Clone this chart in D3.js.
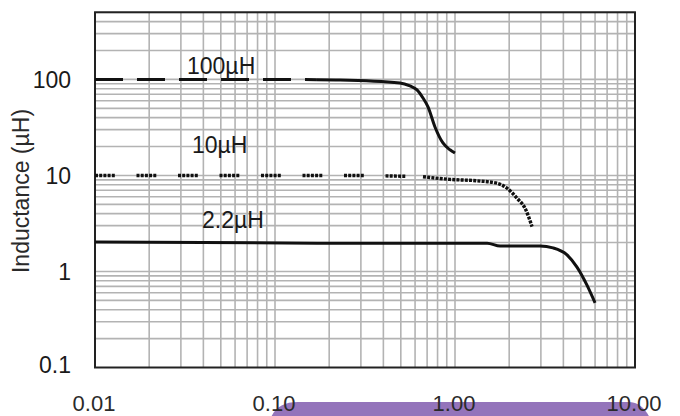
<!DOCTYPE html>
<html>
<head>
<meta charset="utf-8">
<script src="https://cdn.jsdelivr.net/npm/d3@7/dist/d3.min.js"></script>
<style>
  html, body { margin: 0; padding: 0; background: #ffffff; }
  svg { display: block; }
  text { font-family: "Liberation Sans", Arial, sans-serif; }
</style>
</head>
<body>
<svg id="chart" width="680" height="416"></svg>
<script>
// ---- data ----
const xTickValues = [0.01, 0.1, 1, 10];
const xTickLabels = ["0.01", "0.10", "1.00", "10.00"];
const yTickValues = [0.1, 1, 10, 100];
const yTickLabels = ["0.1", "1", "10", "100"];
const yAxisTitle = "Inductance (µH)";

const seriesNames = ["100µH", "10µH", "2.2µH"];

const freq100 = [0.01, 0.171, 0.23, 0.494, 0.562, 0.615, 0.664, 0.708, 0.774, 0.857, 0.938, 1.0];
const ind100  = [100,  99.5,  98.9, 92,    85.5,  77.8,  64,    51.7,  32,    21.8,  18.5,  17.1];

const freq10 = [0.01, 0.1, 0.239, 0.664, 0.938, 1.32, 1.71, 1.94, 2.21, 2.45, 2.68];
const ind10  = [10,   10,  10,    9.7,   9.1,   8.8,  8.3,  7.4,  5.8,  4.55, 2.93];

const freq22 = [0.01, 0.23, 1.51, 1.78, 2.97, 3.5,  4.19, 4.76, 5.41, 6.0];
const ind22  = [2.03, 1.97, 1.97, 1.84, 1.84, 1.76, 1.49, 1.11, 0.72, 0.47];

// frequency where each series switches from broken line to continuous line
const dashEnd = [0.171, 0.664, null];

// ---- layout ----
const svg = d3.select("#chart");
const pLeft = 95, pRight = 635, pTop = 12.3, pBottom = 367.5;

const x = d3.scaleLog().domain([0.01, 10]).range([pLeft, pRight]);
const y = d3.scaleLog().domain([0.1, 500]).range([pBottom, pTop]);

// decoration shape at bottom
svg.append("path")
  .attr("d", "M270,420 C274,408 283,402 298,402 L628,402 C640,402 646,410 651,420 Z")
  .attr("fill", "#9474bb");

// grid
const g = svg.append("g");
const xGrid = [];
for (let k = -2; k <= 0; k++) for (let m = 1; m <= 9; m++) xGrid.push(m * Math.pow(10, k));
const yGrid = [];
for (let k = -1; k <= 2; k++) for (let m = 1; m <= 9; m++) { const v = m * Math.pow(10, k); if (v <= 500) yGrid.push(v); }

g.selectAll("line.vx").data(xGrid.slice(1)).join("line")
  .attr("x1", d => x(d)).attr("x2", d => x(d))
  .attr("y1", pTop).attr("y2", pBottom)
  .attr("stroke", "#b3b3b3").attr("stroke-width", 1.6);
g.selectAll("line.hy").data(yGrid.slice(1)).join("line")
  .attr("y1", d => y(d)).attr("y2", d => y(d))
  .attr("x1", pLeft).attr("x2", pRight)
  .attr("stroke", "#b3b3b3").attr("stroke-width", 1.6);

// frame
svg.append("rect")
  .attr("x", pLeft).attr("y", pTop)
  .attr("width", pRight - pLeft).attr("height", pBottom - pTop)
  .attr("fill", "none").attr("stroke", "#222").attr("stroke-width", 2);

// axes via d3 axis (labels only)
const xAxis = d3.axisBottom(x).tickValues(xTickValues)
  .tickFormat((d, i) => xTickLabels[i]).tickSize(0).tickPadding(0);
const xa = svg.append("g").attr("transform", `translate(0,${pBottom})`).call(xAxis);
xa.select(".domain").remove();
xa.selectAll("text").attr("font-size", 22).attr("fill", "#2a2a2a")
  .attr("font-family", "Liberation Sans, Arial, sans-serif")
  .attr("dy", null).attr("y", 43.5).attr("dx", -1.5);

const yAxis = d3.axisLeft(y).tickValues(yTickValues)
  .tickFormat((d, i) => yTickLabels[i]).tickSize(0).tickPadding(0);
const ya = svg.append("g").attr("transform", `translate(71,0)`).call(yAxis);
ya.select(".domain").remove();
ya.selectAll("text").attr("font-size", 23).attr("fill", "#1a1a1a")
  .attr("font-family", "Liberation Sans, Arial, sans-serif")
  .attr("dy", null)
  .attr("y", d => d === 0.1 ? 4.5 : 8.3);

svg.append("text")
  .attr("transform", "translate(29,191) rotate(-90)")
  .attr("text-anchor", "middle")
  .attr("font-size", 23).attr("fill", "#2a2a2a")
  .text(yAxisTitle);

// series
const series = [
  { f: freq100, v: ind100, dash: "28,14", tail: null },
  { f: freq10,  v: ind10,  dash: "3,1.2,3,1.2,3,1.2,3,1.2,3,21.7", tail: "3,1.2" },
  { f: freq22,  v: ind22,  dash: null, tail: null }
];
const line = d3.line().x(d => x(d[0])).y(d => y(d[1])).curve(d3.curveMonotoneX);

series.forEach((s, i) => {
  const pts = s.f.map((f, j) => [f, s.v[j]]);
  const end = dashEnd[i];
  if (end !== null) {
    const a = pts.filter(p => p[0] <= end);
    const b = pts.filter(p => p[0] >= end);
    svg.append("path").attr("d", line(a)).attr("fill", "none")
      .attr("stroke", "#111").attr("stroke-width", i === 1 ? 3.4 : 3).attr("stroke-dasharray", s.dash);
    svg.append("path").attr("d", line(b)).attr("fill", "none")
      .attr("stroke", "#111").attr("stroke-width", i === 1 ? 3.4 : 3)
      .attr("stroke-dasharray", s.tail);
  } else {
    svg.append("path").attr("d", line(pts)).attr("fill", "none")
      .attr("stroke", "#111").attr("stroke-width", 3);
  }
});

// series labels
const labelPos = [[187, 74], [192, 153], [202, 228]];
svg.selectAll("text.slab").data(seriesNames).join("text")
  .attr("class", "slab")
  .attr("x", (d, i) => labelPos[i][0]).attr("y", (d, i) => labelPos[i][1])
  .attr("font-size", 23).attr("fill", "#1a1a1a")
  .text(d => d);
</script>
</body>
</html>
